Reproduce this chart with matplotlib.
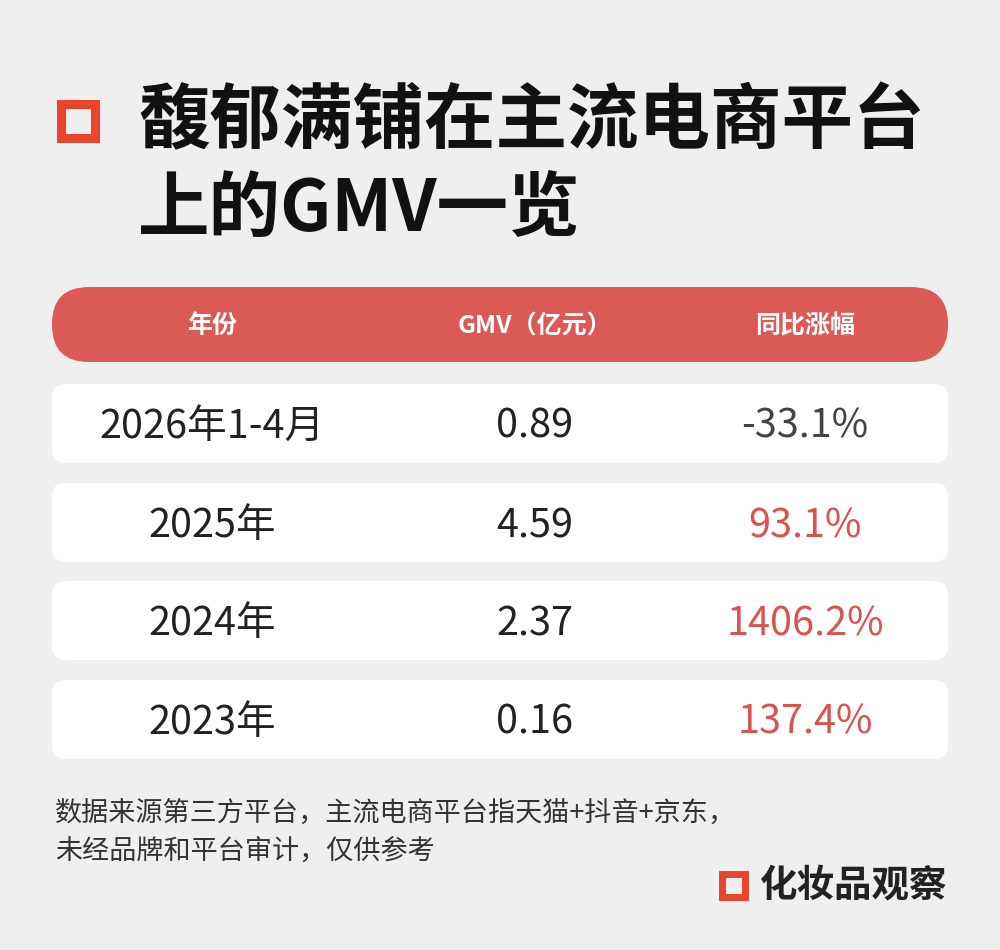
import matplotlib
matplotlib.use("Agg")
import matplotlib.pyplot as plt
from matplotlib.patches import FancyBboxPatch, Rectangle

plt.rcParams['font.family'] = ['Noto Sans CJK SC', 'DejaVu Sans']

title_lines = ["馥郁满铺在主流电商平台", "上的GMV一览"]
headers = ["年份", "GMV（亿元）", "同比涨幅"]
years = ["2026年1-4月", "2025年", "2024年", "2023年"]
gmv = ["0.89", "4.59", "2.37", "0.16"]
growth = ["-33.1%", "93.1%", "1406.2%", "137.4%"]
footer = ["数据来源第三方平台，主流电商平台指天猫+抖音+京东，", "未经品牌和平台审计，仅供参考"]
brand = "化妆品观察"

RED = "#dc5a56"
ICON = "#e8452c"
fig = plt.figure(figsize=(10, 9.5), dpi=100, facecolor="#efefef")
ax = fig.add_axes([0, 0, 1, 1])
ax.set_xlim(0, 1000); ax.set_ylim(950, 0); ax.axis("off")
ax.set_facecolor("#efefef")

def icon(x, y, s, lw):
    ax.add_patch(Rectangle((x, y), s, s, fill=False, edgecolor=ICON, linewidth=lw, joinstyle="miter"))

icon(61, 104, 34, 6.5)
ax.text(138, 122, title_lines[0], fontsize=51.5, fontweight="bold", va="center", ha="left", color="#111")
ax.text(138, 210, title_lines[1], fontsize=51.5, fontweight="bold", va="center", ha="left", color="#111")

cols = [212, 535, 805]
ax.add_patch(FancyBboxPatch((52, 287), 896, 75, boxstyle="round,pad=0,rounding_size=37", facecolor=RED, edgecolor="none"))
for c, h in zip(cols, headers):
    ax.text(c, 326, h, fontsize=18, fontweight="bold", color="white", ha="center", va="center")

tops = [384, 483, 581, 680]
for i, t in enumerate(tops):
    ax.add_patch(FancyBboxPatch((52, t), 896, 79, boxstyle="round,pad=0,rounding_size=14", facecolor="white", edgecolor="none"))
    cy = t + 43
    ax.text(cols[0], cy, years[i], fontsize=28.5, fontweight="medium", color="#222", ha="center", va="center")
    ax.text(cols[1], cy, gmv[i], fontsize=28.5, fontweight="medium", color="#222", ha="center", va="center")
    col = "#444444" if growth[i].startswith("-") else "#d9534f"
    ax.text(cols[2], cy, growth[i], fontsize=28.5, fontweight="medium", color=col, ha="center", va="center")

ax.text(55, 813, footer[0], fontsize=19.5, color="#333", ha="left", va="center")
ax.text(55, 851, footer[1], fontsize=19.5, color="#333", ha="left", va="center")

icon(722, 874, 23, 5)
ax.text(947, 886, brand, fontsize=27, fontweight="bold", color="#222", ha="right", va="center")

fig.savefig("out.png", dpi=100, facecolor=fig.get_facecolor())
